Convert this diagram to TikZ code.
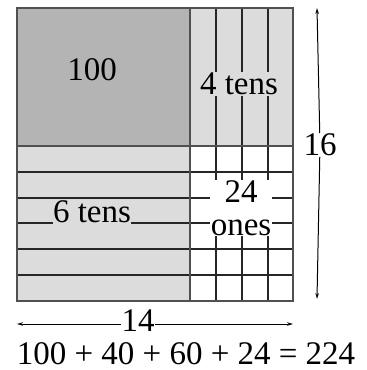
\documentclass[tikz,border=0pt]{standalone}
\usepackage{fontspec}
\setmainfont{Liberation Serif}
\usetikzlibrary{arrows.meta}
\definecolor{hundredgray}{HTML}{B4B4B4}
\definecolor{tengray}{HTML}{DCDCDC}
\definecolor{edgegray}{HTML}{505050}

\begin{document}
\begin{tikzpicture}[x=1pt, y=-1pt, every node/.style={font=\fontsize{33}{33}\selectfont, inner sep=0.5pt},
    gridline/.style={line width=1.4pt, black!85},
    edgeline/.style={line width=2.2pt, edgegray},
    dimline/.style={line width=1pt, -{Stealth[length=6pt, width=3.5pt]}}]
  \useasboundingbox (0,0) rectangle (367,370);
  % blocks
  \fill[hundredgray] (17,8) rectangle (190,146);
  \fill[tengray] (190,8) rectangle (293,146);
  \fill[tengray] (17,146) rectangle (190,301);
  % grid lines
  \foreach \xp in {216,242,268} {
    \draw[gridline] (\xp,8) -- (\xp,301);
  }
  \foreach \yp in {172,198,223,249,275} {
    \draw[gridline] (17,\yp) -- (293,\yp);
  }
  % block edges
  \draw[edgeline] (17,8) rectangle (293,301);
  \draw[edgeline] (190,8) -- (190,301);
  \draw[edgeline] (17,146) -- (293,146);
  % labels
  \node (hundred) at (92,70) {100};
  \node[fill=tengray] (fourtens) at (239,84) {4 tens};
  \node[fill=tengray] (sixtens) at (92,212) {6 tens};
  \node[fill=white, align=center] (ones) at (241,208) {24\\ones};
  % dimensions
  \coordinate (top16) at (317,8);
  \coordinate (bot16) at (317,299);
  \node (len16) at (320,145) {16};
  \draw[dimline] (len16) -- (top16);
  \draw[dimline] (len16) -- (bot16);
  \coordinate (left14) at (17,324);
  \coordinate (right14) at (293,324);
  \node[anchor=base] (len14) at (138,331) {14};
  \draw[dimline] (len14.west |- left14) -- (left14);
  \draw[dimline] (len14.east |- right14) -- (right14);
  \node[anchor=base] (sum) at (186,364) {100 + 40 + 60 + 24 = 224};
\end{tikzpicture}
\end{document}
